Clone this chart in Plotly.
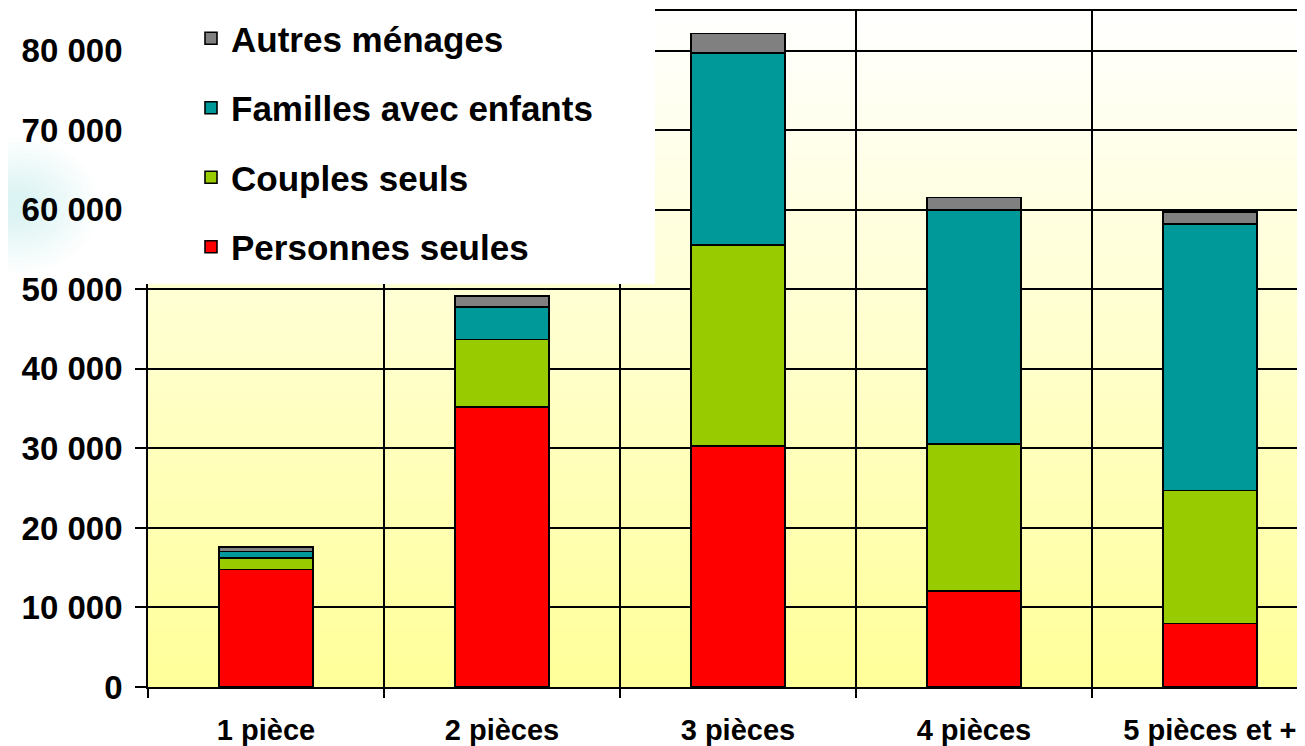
import plotly.graph_objects as go

categories = ["1 pièce", "2 pièces", "3 pièces", "4 pièces", "5 pièces et +"]
personnes_seules = [14800, 35200, 30300, 12100, 8000]
couples_seuls = [1400, 8500, 25250, 18450, 16700]
familles_enfants = [850, 4100, 24200, 29400, 33550]
autres_menages = [550, 1350, 2400, 1600, 1500]

series = [
    ("Personnes seules", personnes_seules, "#FF0000"),
    ("Couples seuls", couples_seuls, "#99CC00"),
    ("Familles avec enfants", familles_enfants, "#009999"),
    ("Autres ménages", autres_menages, "#808080"),
]

FONT = "Liberation Sans, Arial, sans-serif"

# page body adds an 8px offset; plot area: x 148..1305, y 11..687 on screen
L, T, PW, PH = 140, 3, 1157, 676
W, H = L + PW, 738
B = H - T - PH

fig = go.Figure()
for i, (name, vals, col) in enumerate(series):
    fig.add_trace(go.Bar(
        x=categories, y=vals, name=name, legendgroup=f"g{i}",
        legendrank=len(series) - i,
        marker=dict(color=col, line=dict(color="black", width=1.6)),
        width=0.40,
    ))


def px_x(sx):
    return (sx - 8 - L) / PW


def px_y(sy):
    return (T + PH - (sy - 8)) / PH


# Gradient background (white top -> pale yellow bottom)
shapes = []
n = 80
for k in range(n):
    t = (k + 0.5) / n
    b = int(round(0x99 + (0xFF - 0x99) * t))
    shapes.append(dict(type="rect", xref="paper", yref="paper",
                       x0=0, x1=1.05, y0=k / n, y1=(k + 1) / n + 0.002,
                       fillcolor=f"rgb(255,255,{b})", line=dict(width=0),
                       layer="below"))
# subtle teal blur in the left margin
for r in range(80, 10, -6):
    cx, cy = 18, 205
    shapes.append(dict(type="circle", xref="paper", yref="paper",
                       x0=px_x(cx - r), x1=px_x(cx + r),
                       y0=px_y(cy + r * 0.85), y1=px_y(cy - r * 0.85),
                       fillcolor="rgba(0,140,140,0.012)", line=dict(width=0),
                       layer="below"))
# white box behind legend
shapes.append(dict(type="rect", xref="paper", yref="paper",
                   x0=px_x(134), x1=px_x(655),
                   y0=px_y(284), y1=1.05,
                   fillcolor="white", line=dict(width=0), layer="above"))

fig.update_layout(
    width=W, height=H,
    margin=dict(l=L, r=0, t=T, b=B),
    barmode="stack",
    paper_bgcolor="white",
    plot_bgcolor="rgba(0,0,0,0)",
    separators=", ",
    shapes=shapes,
    showlegend=True,
    legend=dict(
        x=px_x(191), y=px_y(9),
        xanchor="left", yanchor="top",
        traceorder="grouped", tracegroupgap=21,
        bgcolor="rgba(0,0,0,0)",
        font=dict(family=FONT, size=35, color="black", weight="bold"),
    ),
    font=dict(family=FONT, color="black"),
)

fig.update_xaxes(
    range=[-0.5, 4.403],
    tickson="boundaries", ticks="outside", ticklen=9, tickwidth=1.5, tickcolor="black",
    showgrid=True, gridcolor="black", gridwidth=1.5,
    showline=True, linecolor="black", linewidth=1.8, mirror=True,
    tickfont=dict(family=FONT, size=29, color="black", weight="bold"),
    ticklabelstandoff=16,
)
fig.update_yaxes(
    range=[0, 85000], dtick=10000, tick0=0, tickformat=",d",
    ticks="outside", ticklen=11, tickwidth=1.5, tickcolor="black",
    showgrid=True, gridcolor="black", gridwidth=1.5, zeroline=False,
    showline=True, linecolor="black", linewidth=1.8,
    tickfont=dict(family=FONT, size=33, color="black", weight="bold"),
    ticklabelstandoff=6,
)

fig.write_html("out.html")
